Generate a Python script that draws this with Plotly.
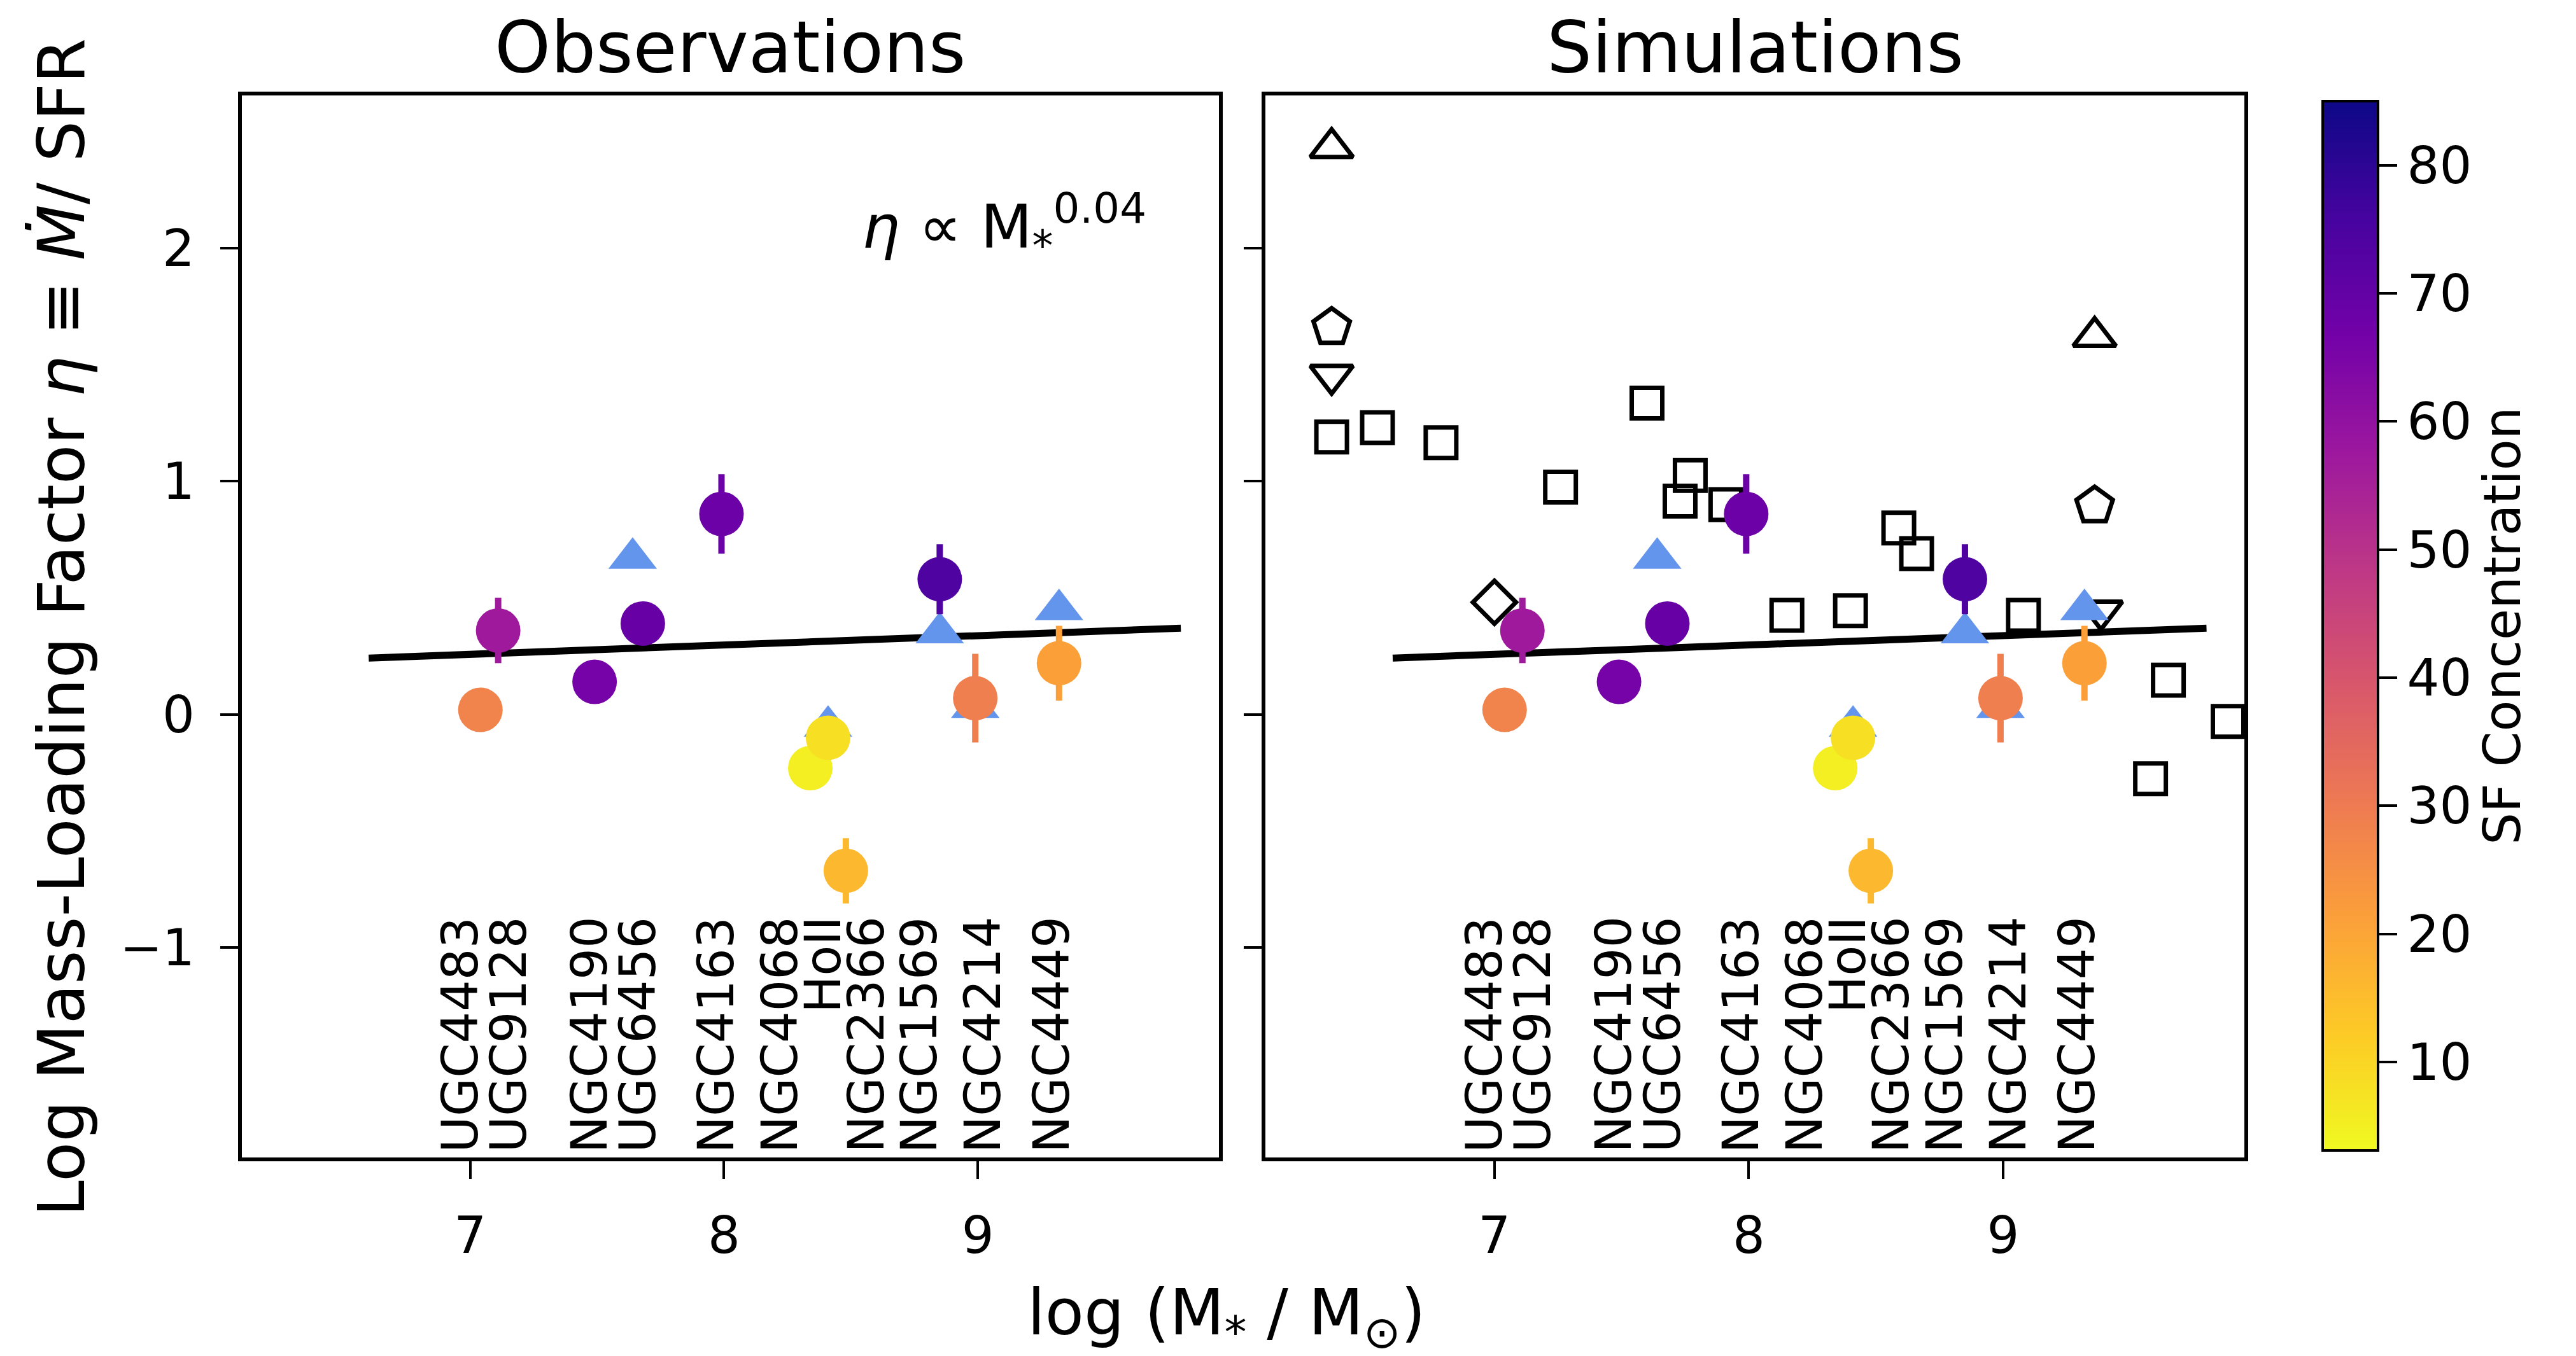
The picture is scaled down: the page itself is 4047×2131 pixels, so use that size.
import plotly.graph_objects as go
from plotly.colors import sample_colorscale

# ---------------- data ----------------
galaxies = ["UGC4483", "UGC9128", "NGC4190", "UGC6456", "NGC4163", "NGC4068",
            "HoII", "NGC2366", "NGC1569", "NGC4214", "NGC4449"]
obs_logm = [7.04, 7.11, 7.49, 7.68, 7.99, 8.34, 8.41, 8.48, 8.85, 8.99, 9.32]
obs_eta = [0.02, 0.36, 0.14, 0.39, 0.86, -0.23, -0.10, -0.67, 0.58, 0.07, 0.22]
obs_err = [0.0, 0.14, 0.0, 0.0, 0.17, 0.0, 0.0, 0.14, 0.15, 0.19, 0.16]
sf_conc = [28, 57, 66, 69, 68, 5, 8, 16, 74, 29, 21]
label_x = [6.96, 7.15, 7.47, 7.66, 7.97, 8.22, 8.39, 8.56, 8.77, 9.02, 9.29]

# alternative observational estimate (blue triangles)
tri_logm = [7.64, 8.41, 8.85, 8.99, 9.32]
tri_eta = [0.67, -0.05, 0.35, 0.03, 0.45]

# power-law fit  eta ~ M^0.04
fit_logm = [6.6, 9.8]
fit_slope = 0.04
fit_intercept = -0.022

# simulations (open black markers)
sim_sq_logm = [6.36, 6.54, 6.79, 7.26, 7.60, 7.77, 7.73, 7.91, 8.59, 8.66, 8.15, 8.40, 9.08, 9.65, 9.885, 9.58]
sim_sq_eta = [1.19, 1.23, 1.165, 0.975, 1.335, 1.025, 0.915, 0.90, 0.80, 0.69, 0.425, 0.445, 0.425, 0.147, -0.03, -0.275]
sim_tu_logm = [6.36, 9.36]
sim_tu_eta = [2.43, 1.62]
sim_pent_logm = [6.36, 9.36]
sim_pent_eta = [1.66, 0.895]
sim_td_logm = [6.36, 9.385]
sim_td_eta = [1.455, 0.444]
sim_dia_logm = [7.00]
sim_dia_eta = [0.481]

cb_ticks = [10, 20, 30, 40, 50, 60, 70, 80]
CMIN, CMAX = 3.1, 85.0

FONT = "DejaVu Sans"
BLUE = "#6495ED"

fit_eta = [fit_slope * m + fit_intercept for m in fit_logm]

def conc_color(c):
    t = (c - CMIN) / (CMAX - CMIN)
    return sample_colorscale("Plasma", [1 - t])[0]

fig = go.Figure()

def add_fit(xa, ya):
    fig.add_trace(go.Scatter(x=fit_logm, y=fit_eta, mode="lines",
                             line=dict(color="black", width=11),
                             xaxis=xa, yaxis=ya, showlegend=False, hoverinfo="skip"))

def add_obs_points(xa, ya, showscale):
    fig.add_trace(go.Scatter(x=tri_logm, y=tri_eta, mode="markers",
                             marker=dict(symbol="triangle-up", size=66, color=BLUE, line=dict(width=0)),
                             xaxis=xa, yaxis=ya, showlegend=False))
    for m, e, er, c in zip(obs_logm, obs_eta, obs_err, sf_conc):
        if er > 0:
            fig.add_trace(go.Scatter(x=[m], y=[e], mode="markers",
                                     marker=dict(size=2, opacity=0),
                                     error_y=dict(type="data", array=[er], color=conc_color(c),
                                                  thickness=10, width=0),
                                     xaxis=xa, yaxis=ya, showlegend=False))
    mk = dict(size=70, color=sf_conc, colorscale="Plasma", reversescale=True,
              cmin=CMIN, cmax=CMAX, line=dict(width=0), showscale=showscale)
    if showscale:
        mk["colorbar"] = dict(
            x=3631 / 4047, xanchor="left", y=0.5422, yanchor="middle",
            thickness=87, thicknessmode="pixels", len=1669, lenmode="pixels",
            outlinewidth=4, outlinecolor="black",
            ticks="outside", ticklen=28, tickwidth=4, tickcolor="black",
            tickvals=cb_ticks, tickfont=dict(family=FONT, size=80, color="black"),
            title=dict(text="SF Concentration", side="right",
                       font=dict(family=FONT, size=80, color="black")),
        )
    fig.add_trace(go.Scatter(x=obs_logm, y=obs_eta, mode="markers", marker=mk,
                             xaxis=xa, yaxis=ya, showlegend=False, text=galaxies))

# left panel
add_fit("x", "y")
add_obs_points("x", "y", True)

# right panel
add_fit("x2", "y2")
open_kw = dict(color="rgba(0,0,0,0)", line=dict(color="black", width=7))
fig.add_trace(go.Scatter(x=sim_sq_logm, y=sim_sq_eta, mode="markers",
                         marker=dict(symbol="square", size=48, **open_kw),
                         xaxis="x2", yaxis="y2", showlegend=False))
fig.add_trace(go.Scatter(x=sim_tu_logm, y=sim_tu_eta, mode="markers",
                         marker=dict(symbol="triangle-up", size=58, **open_kw),
                         xaxis="x2", yaxis="y2", showlegend=False))
fig.add_trace(go.Scatter(x=sim_pent_logm, y=sim_pent_eta, mode="markers",
                         marker=dict(symbol="pentagon", size=60, **open_kw),
                         xaxis="x2", yaxis="y2", showlegend=False))
fig.add_trace(go.Scatter(x=sim_td_logm, y=sim_td_eta, mode="markers",
                         marker=dict(symbol="triangle-down", size=58, **open_kw),
                         xaxis="x2", yaxis="y2", showlegend=False))
fig.add_trace(go.Scatter(x=sim_dia_logm, y=sim_dia_eta, mode="markers",
                         marker=dict(symbol="diamond", size=52, **open_kw),
                         xaxis="x2", yaxis="y2", showlegend=False))
add_obs_points("x2", "y2", False)

ax_common = dict(showline=True, linewidth=6, linecolor="black", mirror=True,
                 ticks="outside", ticklen=28, tickwidth=4, tickcolor="black",
                 showgrid=False, zeroline=False,
                 tickfont=dict(family=FONT, size=80, color="black"))
xr = [6.1, 9.95]
yr = [-1.899, 2.655]
ydom = [0.1502, 0.9335]

fig.update_layout(
    width=4047, height=2131,
    margin=dict(l=0, r=0, t=0, b=0),
    paper_bgcolor="white", plot_bgcolor="white",
    font=dict(family=FONT, color="black"),
    xaxis=dict(domain=[0.0919, 0.4712], range=xr, tickvals=[7, 8, 9], anchor="y",
               ticklabelstandoff=20, **ax_common),
    yaxis=dict(domain=ydom, range=yr, tickvals=[-1, 0, 1, 2], anchor="x",
               ticklabelstandoff=24, **ax_common),
    xaxis2=dict(domain=[0.4893, 0.8694], range=xr, tickvals=[7, 8, 9], anchor="y2",
                ticklabelstandoff=20, **ax_common),
    yaxis2=dict(domain=ydom, range=yr, tickvals=[-1, 0, 1, 2], anchor="x2",
                showticklabels=False, **ax_common),
)

ann = []
for xref, yref in (("x", "y"), ("x2", "y2")):
    for name, lx in zip(galaxies, label_x):
        ann.append(dict(x=lx, y=-0.86, xref=xref, yref=yref, text=name, textangle=-90,
                        xanchor="center", yanchor="top", showarrow=False,
                        font=dict(family=FONT, size=78, color="black")))

ann.append(dict(x=0.5, y=1.0, xref="x domain", yref="paper", text="Observations",
                showarrow=False, xanchor="center", yanchor="top", borderpad=0,
                font=dict(family=FONT, size=112, color="black")))
ann.append(dict(x=0.5, y=1.0, xref="x2 domain", yref="paper", text="Simulations",
                showarrow=False, xanchor="center", yanchor="top", borderpad=0,
                font=dict(family=FONT, size=112, color="black")))
ann.append(dict(x=9.67, y=2.09, xref="x", yref="y",
                text="<i>η</i> ∝ M<sub>*</sub><sup>0.04</sup>",
                showarrow=False, xanchor="right", yanchor="middle",
                font=dict(family=FONT, size=94, color="black")))
ann.append(dict(x=0.4742, y=0.0324, xref="paper", yref="paper",
                text="log (M<sub>*</sub> / M<sub>⊙</sub>)",
                showarrow=False, xanchor="center", yanchor="middle",
                font=dict(family=FONT, size=100, color="black")))
ann.append(dict(x=0.0217, y=0.541, xref="paper", yref="paper",
                text="Log Mass-Loading Factor <i>η</i> ≡ <i>Ṁ</i>/ SFR",
                textangle=-90, showarrow=False, xanchor="center", yanchor="middle",
                font=dict(family=FONT, size=102, color="black")))
fig.update_layout(annotations=ann)

fig.write_html("out.html")
